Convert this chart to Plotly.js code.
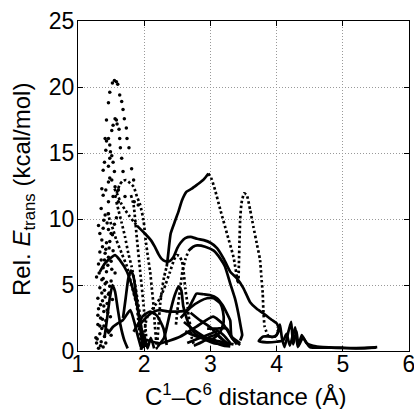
<!DOCTYPE html>
<html>
<head>
<meta charset="utf-8">
<script src="https://cdn.plot.ly/plotly-3.0.1.min.js"></script>
<style>html,body{margin:0;padding:0;background:#fff;}#chart{width:414px;height:409px;}</style>
</head>
<body>
<div id="chart"></div>
<script>
// ---- Data (x: C1–C6 distance in Å, y: Rel. E_trans in kcal/mol) ----
const xTicks = [1, 2, 3, 4, 5, 6];
const yTicks = [0, 5, 10, 15, 20, 25];
const xTitle = 'C<sup>1</sup>–C<sup>6</sup> distance (Å)';
const yTitle = 'Rel. <i>E</i><sub>trans</sub> (kcal/mol)';

// scattered left cluster (fast trajectories)
const scatterX = [1.55,1.58,1.52,1.60,1.48,1.63,1.46,1.66,1.68,1.43,1.56,1.58,1.70,1.53,1.59,1.73,1.51,1.62,1.41,1.46,1.63,1.74,1.43,1.48,1.42,1.49,1.64,1.77,1.51,1.48,1.66,1.40,1.53,1.81,1.46,1.38,1.68,1.55,1.48,1.46,1.51,1.84,1.36,1.42,1.56,1.61,1.71,1.38,1.53,1.46,1.61,1.85,1.91,
  1.41,1.46,1.31,1.38,1.46,1.36,1.43,1.48,1.33,1.41,1.46,1.31,1.38,1.43,1.28,1.36,1.41,1.50,1.33,1.40,1.47,1.30,1.37,1.44,1.52,1.31,1.39,1.45,1.34,1.42,1.49,1.30,1.36,1.44,1.33,1.40,1.29,1.35,1.42,1.28,1.34,1.31,1.38,1.55,1.52,1.58,1.50,1.56,
  1.35,1.39,1.44,1.50,1.33,1.37,1.42,1.47,1.53,1.35,1.40,1.45,1.51,1.32,1.38,1.43,1.48,1.36,1.41,1.46,1.34,1.39,1.44,1.30,1.37,1.27,1.33,1.39,1.45,1.50];
const scatterY = [20.5,20.4,20.3,20.2,19.6,19.4,18.8,18.9,18.3,17.5,17.6,17.5,17.6,17.1,17.2,16.9,16.7,16.8,16.1,16.1,16.1,16.1,15.9,15.6,15.2,15.1,15.4,15.4,14.8,14.6,14.6,14.3,14.3,13.8,14.0,13.7,13.6,13.6,13.1,12.8,12.95,12.95,12.3,12.2,12.45,12.2,11.7,11.8,11.7,11.3,11.3,11.3,11.06,
  10.3,10.4,9.5,9.3,9.2,8.4,8.2,8.3,7.5,7.4,7.1,6.6,6.3,6.0,5.6,5.4,5.1,5.3,4.8,4.6,4.4,4.0,3.8,3.6,3.9,3.2,3.0,2.9,2.5,2.3,2.6,2.0,1.7,1.6,1.3,1.1,0.9,0.7,0.6,0.6,0.4,0.2,0.3,9.6,8.8,10.1,6.8,5.9,
  10.8,9.9,9.7,8.9,8.9,7.9,7.7,7.8,7.6,6.9,6.9,6.5,6.2,5.9,5.5,5.2,4.9,4.4,4.1,4.3,3.5,3.4,3.1,2.7,2.4,1.0,1.9,1.9,1.5,1.2];

// trajectory 1: 13-peak dotted descent, rise to 13.4, bounce to 11.9 and out to the tail
const t1aX = [1.56,1.60,1.63,1.68,1.73,1.79,1.84,1.89,1.94,1.99,2.02,2.06,2.09,2.12,2.14,2.16,2.18,2.19,2.20,2.22,2.24,2.27,2.30,2.34];
const t1aY = [11.6,12.2,12.6,12.9,12.95,12.7,12.45,11.7,11.06,9.9,8.5,7.0,6.0,4.5,3.5,2.0,0.8,0.2,0.8,2.2,3.5,4.7,5.6,6.4];
const t1bX = [2.34,2.36,2.40,2.47,2.52,2.57,2.64,2.72,2.80,2.90,2.97];
const t1bY = [6.4,7.2,8.9,9.9,10.6,11.4,12.07,12.3,12.6,13.0,13.45];
const t1cX = [2.97,3.02,3.07,3.15,3.25,3.35,3.42,3.43,3.44,3.45,3.47,3.51,3.55,3.60,3.65,3.70,3.75,3.77,3.79,3.80,3.82,3.87];
const t1cY = [13.45,13.0,12.2,10.7,8.9,7.1,5.1,6.5,8.4,10.0,11.2,11.95,11.8,10.7,9.4,8.16,6.9,5.6,4.4,3.1,1.84,1.15];
const t1dX = [3.87,3.93,4.00,4.05,4.08,4.12,4.18,4.22,4.25,4.30,4.33,4.38,4.45,4.55,4.70,5.00,5.30,5.52];
const t1dY = [1.15,1.05,1.2,2.0,1.0,0.3,1.5,2.2,0.5,1.5,0.4,1.2,0.6,0.4,0.3,0.25,0.22,0.3];

// trajectory 2: valley curve and outer hump (8.6)
const t2aX = [1.55,1.60,1.65,1.71,1.78,1.84,1.89];
const t2aY = [12.3,11.8,11.2,10.7,10.2,9.8,9.5];
const t2bX = [1.89,2.01,2.10,2.16,2.22,2.26,2.32,2.38,2.44,2.50,2.55,2.62,2.70,2.80,2.90,3.00,3.10,3.20,3.30,3.40,3.50,3.60,3.70,3.80,3.93,4.00,4.04,3.98,3.80,3.73,3.85,4.00,4.10,4.15,4.20,4.28,4.32,4.40,4.50,4.80,5.20,5.50];
const t2bY = [9.5,8.9,8.4,7.9,7.3,7.0,6.8,6.8,7.1,7.8,8.2,8.55,8.65,8.5,8.4,8.2,7.8,7.0,6.0,5.5,4.75,3.7,3.2,2.85,2.35,2.1,1.6,1.1,1.1,0.75,0.65,0.7,0.8,1.3,0.4,1.8,0.3,1.0,0.3,0.25,0.2,0.25];

// trajectory 3: inner hump (7.9)
const t3aX = [2.48,2.50,2.53,2.55,2.58,2.62,2.67];
const t3aY = [2.0,3.0,4.2,5.0,6.1,6.9,7.6];
const t3bX = [2.67,2.74,2.80,2.92,3.05,3.15,3.22,3.30,3.37,3.42,3.46,3.48,3.45];
const t3bY = [7.6,7.9,8.0,7.9,7.6,7.0,6.4,5.1,4.0,2.9,1.8,1.2,0.8];

// trajectory 4: dotted 7.2 peak near 2.5
const t4X = [1.99,2.04,2.14,2.24,2.32,2.39,2.45,2.49,2.53,2.57,2.60,2.62,2.65,2.67,2.70,2.72,2.75];
const t4Y = [1.0,2.5,3.3,4.0,5.0,6.0,6.9,7.27,7.2,6.8,5.8,4.75,3.7,2.7,1.8,0.96,0.5];

// low-energy solid trajectories (x 1.9 – 3.5)
const t5X = [2.20,2.30,2.35,2.40,2.46,2.52,2.56,2.59,2.64,2.69,2.77,2.84,2.95,3.05,3.20,3.30];
const t5Y = [0.3,1.0,2.0,3.1,4.2,4.9,4.6,3.4,2.5,1.84,1.3,1.08,0.8,0.6,0.5,0.45];
const t6X = [1.90,2.04,2.15,2.24,2.35,2.45,2.55,2.65,2.74,2.79,2.90,2.99,3.10,3.18,3.25,3.30,3.32,3.45];
const t6Y = [1.8,2.6,3.0,3.1,3.0,2.98,3.0,3.1,3.9,4.35,4.3,4.24,4.0,3.5,2.85,2.3,1.1,0.58];
const t7X = [2.55,2.70,2.85,2.95,3.05,3.15,3.19,3.20,3.15,3.05,2.90];
const t7Y = [2.5,3.3,3.8,4.0,4.0,3.6,3.0,2.2,1.46,0.96,0.8];
const t8X = [2.04,2.24,2.54,2.79,3.04,3.20,3.30,3.40];
const t8Y = [0.83,0.58,1.08,1.84,2.6,2.0,1.2,0.5];
const t9X = [2.60,2.75,2.90,3.05,3.20,3.30];
const t9Y = [2.2,1.6,1.1,0.7,0.4,0.35];
const t10X = [2.65,2.80,3.00,3.10,3.20,3.30];
const t10Y = [0.6,0.9,1.3,1.5,1.2,0.6];
const t11X = [2.70,2.85,3.00,3.15,3.28];
const t11Y = [2.9,2.3,1.8,1.0,0.5];
const t12X = [2.95,3.10,3.25,3.33,3.45];
const t12Y = [1.7,1.7,1.7,0.96,0.45];
const t13X = [2.62,2.72,2.85,3.00,3.12,3.25,3.35];
const t13Y = [1.5,1.25,1.0,0.9,0.75,0.6,0.5];
const t14X = [2.75,2.88,3.00,3.10,3.18,3.26];
const t14Y = [0.4,0.7,1.1,1.2,0.9,0.4];

// left region trajectories
const k1X = [1.45,1.48,1.53,1.58,1.66,1.74,1.79,1.84,1.89,1.91,1.94,1.96];
const k1Y = [10.5,9.9,9.2,8.4,7.4,6.4,5.4,4.4,3.36,2.35,1.08,0.1];
const k2X = [1.58,1.61,1.66,1.71,1.76,1.81,1.86,1.90,1.94,1.96,1.98];
const k2Y = [11.3,10.7,9.7,8.66,7.4,6.4,5.1,3.86,2.6,1.08,0.3];
const k3X = [1.80,1.84,1.89,1.94,1.99,2.04];
const k3Y = [11.8,11.06,8.5,6.0,3.5,0.45];
const k4X = [1.33,1.40,1.48,1.56,1.63,1.74,1.84,1.89,1.94,1.99,2.02];
const k4Y = [6.0,6.6,7.0,7.27,6.9,6.0,4.5,3.5,2.2,0.96,0.3];
const k5X = [1.68,1.72,1.76,1.80,1.84,1.88,1.92,1.96,1.99];
const k5Y = [2.5,4.0,5.5,6.1,5.6,4.2,2.6,1.0,0.2];
const k6X = [1.40,1.44,1.48,1.52,1.56,1.60,1.64,1.70,1.75];
const k6Y = [1.0,2.5,4.0,5.0,4.5,3.2,2.0,0.8,0.2];
const k7X = [1.45,1.53,1.60,1.68,1.79,1.85,1.90,1.95];
const k7Y = [1.3,1.84,2.1,2.35,3.1,2.2,1.2,0.3];
const k8X = [1.84,1.99,2.09,2.19,2.29,2.34];
const k8Y = [1.46,2.7,2.98,2.7,1.72,0.45];
const k9X = [1.95,2.00,2.05,2.10,2.15];
const k9Y = [0.1,1.2,0.2,1.0,0.2];

const solidSets = [[t1bX,t1bY],[t1dX,t1dY],[t2bX,t2bY],[t3bX,t3bY],[t5X,t5Y],[t6X,t6Y],[t7X,t7Y],[t8X,t8Y],[t9X,t9Y],[t10X,t10Y],[t11X,t11Y],[t12X,t12Y],[t13X,t13Y],[t14X,t14Y],[k4X,k4Y],[k5X,k5Y],[k6X,k6Y],[k7X,k7Y],[k8X,k8Y],[k9X,k9Y]];
const dottedSets = [[t1aX,t1aY],[t1cX,t1cY],[t2aX,t2aY],[t3aX,t3aY],[t4X,t4Y],[k1X,k1Y],[k2X,k2Y],[k3X,k3Y]];

const traces = [];
solidSets.forEach(function(s){
  traces.push({x:s[0], y:s[1], type:'scatter', mode:'lines', hoverinfo:'skip',
    line:{color:'#000', width:2.7, shape:'spline', smoothing:0.5}});
});
dottedSets.forEach(function(s){
  traces.push({x:s[0], y:s[1], type:'scatter', mode:'lines', hoverinfo:'skip',
    line:{color:'#000', width:2.7, dash:'2.5px,2.5px', shape:'spline', smoothing:0.5}});
});
traces.push({x:scatterX, y:scatterY, type:'scatter', mode:'markers', hoverinfo:'skip',
  marker:{color:'#000', size:3.5}});

const fontFam = 'Liberation Sans, Arial, Helvetica, sans-serif';
const axisCommon = {
  ticks:'inside', ticklen:5, tickcolor:'#000', mirror:'ticks', ticklabeloverflow:'allow',
  showline:true, linecolor:'#000', linewidth:1,
  showgrid:true, gridcolor:'#999', gridwidth:1, griddash:'1px,2px',
  zeroline:false, tickfont:{size:23}
};
const layout = {
  width:414, height:409,
  margin:{l:78, r:5, t:21, b:58},
  paper_bgcolor:'#fff', plot_bgcolor:'#fff',
  showlegend:false,
  font:{family:fontFam, color:'#000', size:21},
  xaxis:Object.assign({range:[1,6], tickvals:xTicks, ticktext:xTicks.map(String), ticklabelstandoff:-8}, axisCommon),
  yaxis:Object.assign({range:[0,25], tickvals:yTicks, ticktext:yTicks.map(String), ticklabelstandoff:-2}, axisCommon),
  annotations:[
    {text:xTitle, xref:'paper', yref:'paper', x:0.507, y:0, xanchor:'center', yanchor:'middle',
     yshift:-44, showarrow:false, font:{size:24}},
    {text:yTitle, xref:'paper', yref:'paper', x:0, y:0.488, xanchor:'center', yanchor:'middle',
     xshift:-54, textangle:-90, showarrow:false, font:{size:24}}
  ]
};
Plotly.newPlot('chart', traces, layout, {staticPlot:true, displayModeBar:false});
</script>
</body>
</html>
